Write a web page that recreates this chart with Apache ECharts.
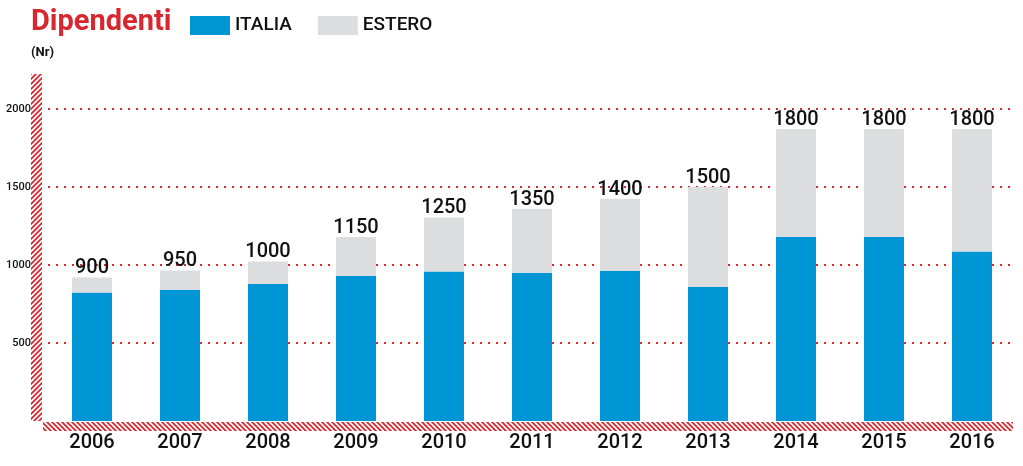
<!DOCTYPE html>
<html><head><meta charset="utf-8">
<script src="https://cdn.jsdelivr.net/npm/echarts@6/dist/echarts.min.js"></script>
<style>html,body{margin:0;padding:0;background:#fff}#c{width:1023px;height:466px}</style>
</head><body><div id="c"></div>
<script>
const years = ['2006','2007','2008','2009','2010','2011','2012','2013','2014','2015','2016'];
const italia = [824, 842, 878, 931, 959, 951, 961, 859, 1179, 1179, 1087];
const estero = [96, 123, 145, 248, 346, 410, 464, 641, 693, 693, 785];
const totalLabels = ['900','950','1000','1150','1250','1350','1400','1500','1800','1800','1800'];
const seriesNames = ['ITALIA', 'ESTERO'];
const yMin = 0, yMax = 2000, yStep = 500;

const FONT = "Roboto, 'DejaVu Sans Condensed', sans-serif";
const RED = '#d7282f';

function hatch(dir) {
  const n = 5;
  const c = document.createElement('canvas');
  c.width = n; c.height = n;
  const g = c.getContext('2d');
  g.fillStyle = '#fff'; g.fillRect(0, 0, n, n);
  g.strokeStyle = RED; g.lineWidth = 1.8;
  g.beginPath();
  for (let k = -n; k <= n; k += n) {
    if (dir === '/') { g.moveTo(k - 1, n + 1); g.lineTo(k + n + 1, -1); }
    else { g.moveTo(k - 1, -1); g.lineTo(k + n + 1, n + 1); }
  }
  g.stroke();
  return c;
}

// layout constants
const G = { left: 48, right: 7, top: 109, bottom: 45 };
const W = 1023, H = 466;
const baseY = H - G.bottom;

const chart = echarts.init(document.getElementById('c'));
chart.setOption({
  backgroundColor: '#fff',
  animation: false,
  textStyle: { fontFamily: FONT },
  title: {
    text: 'Dipendenti', subtext: '(Nr)', left: 31, top: 8, padding: 0, itemGap: 9,
    textStyle: { fontFamily: FONT, fontSize: 29, fontWeight: 'bold', color: RED },
    subtextStyle: { fontFamily: FONT, fontSize: 13, fontWeight: 'bold', color: '#111' }
  },
  legend: {
    data: seriesNames, left: 190, top: 16, padding: 0, icon: 'rect',
    itemWidth: 40, itemHeight: 19, itemGap: 26,
    textStyle: { fontFamily: FONT, fontSize: 19, fontWeight: 500, color: '#111' }
  },
  grid: { left: G.left, right: G.right, top: G.top, bottom: G.bottom, containLabel: false },
  xAxis: {
    type: 'category', data: years,
    axisLine: { show: false }, axisTick: { show: false },
    axisLabel: { fontFamily: FONT, fontSize: 20, fontWeight: 500, color: '#111', margin: 12 }
  },
  yAxis: {
    type: 'value', min: yMin, max: yMax, interval: yStep,
    axisLine: { show: false }, axisTick: { show: false },
    axisLabel: { fontFamily: FONT, fontSize: 11, fontWeight: 500, color: '#111', margin: 17, showMinLabel: false,
      formatter: v => String(v) },
    splitLine: { show: true, showMinLine: false, lineStyle: { color: RED, type: [2, 6], width: 2 } }
  },
  graphic: [
    { type: 'rect', silent: true, shape: { x: 31, y: 74, width: 11, height: baseY - 74 },
      style: { fill: { image: hatch('/'), repeat: 'repeat' } } },
    { type: 'rect', silent: true, shape: { x: 43, y: baseY + 1, width: W - 10 - 43, height: 9 },
      style: { fill: { image: hatch('\\'), repeat: 'repeat' } } }
  ],
  series: [
    { name: seriesNames[0], type: 'bar', stack: 't', data: italia, barWidth: 40,
      itemStyle: { color: '#0096d6' } },
    { name: seriesNames[1], type: 'bar', stack: 't', data: estero, barWidth: 40,
      itemStyle: { color: '#dcdddf' },
      label: { show: true, position: 'top', distance: -1, fontFamily: FONT, fontSize: 20, fontWeight: 500, color: '#111',
        formatter: p => totalLabels[p.dataIndex] } }
  ]
});
</script></body></html>
